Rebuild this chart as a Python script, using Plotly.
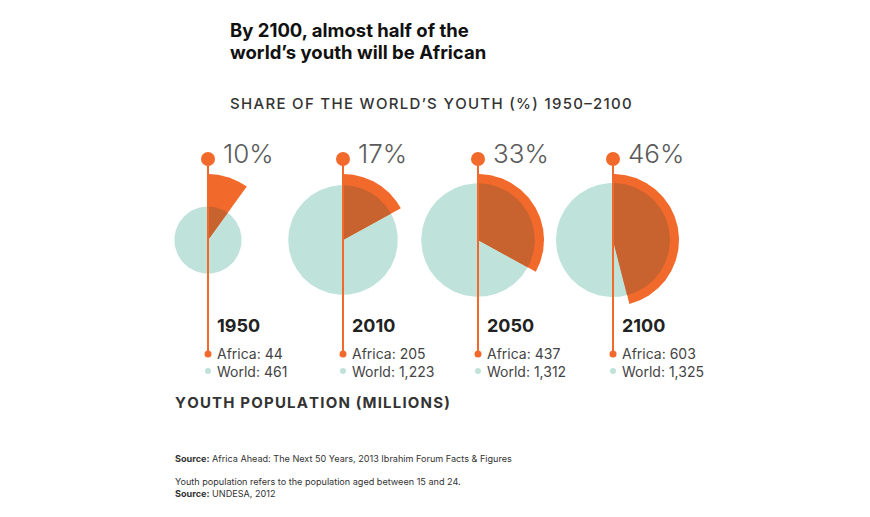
import numpy as np
import plotly.graph_objects as go

years = ["1950", "2010", "2050", "2100"]
share_pct = [10, 17, 33, 46]
africa = [44, 205, 437, 603]
world = [461, 1223, 1312, 1325]

TEAL = "#bfe3db"
ORANGE = "#f26a2b"
DARK = "#c8622f"
W, H = 870, 517
OFF = 8         # page body margin
x0, dx, cy = 208, 135, 240
R_MAX = 57      # circle radius for max world population
R_WEDGE = 66    # radius of the Africa share wedge
FONT = "Inter"
HS = "\u200a"


def spaced(s):
    return HS.join(s)


fig = go.Figure()


def arc(cx, cy, r, a0, a1, n=120):
    t = np.linspace(a0, a1, n)
    return cx + r * np.sin(t), cy - r * np.cos(t)


wmax = max(world)
for i, (yr, s, a, w) in enumerate(zip(years, share_pct, africa, world)):
    cx = x0 + i * dx
    r = R_MAX * np.sqrt(w / wmax)
    xs, ys = arc(cx, cy, r, 0, 2 * np.pi, 200)
    fig.add_trace(go.Scatter(x=xs, y=ys, fill="toself", fillcolor=TEAL, mode="lines",
                             line=dict(width=0), hoverinfo="skip"))
    ang = 2 * np.pi * s / 100
    xs, ys = arc(cx, cy, R_WEDGE, 0, ang)
    fig.add_trace(go.Scatter(x=np.r_[cx, xs, cx], y=np.r_[cy, ys, cy], fill="toself",
                             fillcolor=ORANGE, mode="lines", line=dict(width=0), hoverinfo="skip"))
    xs, ys = arc(cx, cy, r, 0, ang)
    fig.add_trace(go.Scatter(x=np.r_[cx, xs, cx], y=np.r_[cy, ys, cy], fill="toself",
                             fillcolor=DARK, mode="lines", line=dict(width=0), hoverinfo="skip"))
    fig.add_trace(go.Scatter(x=[cx, cx], y=[159, 354], mode="lines",
                             line=dict(color=ORANGE, width=2), hoverinfo="skip"))
    fig.add_trace(go.Scatter(x=[cx], y=[159], mode="markers",
                             marker=dict(color=ORANGE, size=14), hoverinfo="skip"))
    fig.add_trace(go.Scatter(x=[cx], y=[354], mode="markers",
                             marker=dict(color=ORANGE, size=7), hoverinfo="skip"))
    fig.add_trace(go.Scatter(x=[cx], y=[371], mode="markers",
                             marker=dict(color=TEAL, size=6), hoverinfo="skip"))
    fig.add_annotation(x=cx + 13, y=153, text=f"{s}%", showarrow=False, xanchor="left",
                       yanchor="middle", font=dict(family=FONT, size=26, color="#5a5a5a", weight=300))
    fig.add_annotation(x=cx + 7, y=325, text=yr, showarrow=False, xanchor="left",
                       yanchor="middle", font=dict(family=FONT, size=18, color="#222", weight=700))
    fig.add_annotation(x=cx + 7, y=353, text=f"Africa: {a:,}", showarrow=False, xanchor="left",
                       yanchor="middle", font=dict(family=FONT, size=14, color="#444"))
    fig.add_annotation(x=cx + 7, y=371, text=f"World: {w:,}", showarrow=False, xanchor="left",
                       yanchor="middle", font=dict(family=FONT, size=14, color="#444"))

texts = [
    (228, 30, "By 2100, almost half of the", 18.5, "#111", 700),
    (228, 52, "world’s youth will be African", 18.5, "#111", 700),
    (228, 103, spaced("SHARE OF THE WORLD’S YOUTH (%) 1950–2100"), 15, "#333", 500),
    (173, 402, spaced("YOUTH POPULATION (MILLIONS)"), 15, "#333", 700),
    (173, 458, "<b>Source:</b> Africa Ahead: The Next 50 Years, 2013 Ibrahim Forum Facts &amp; Figures", 9.1, "#333", 400),
    (173, 481, "Youth population refers to the population aged between 15 and 24.", 9.1, "#333", 400),
    (173, 493, "<b>Source:</b> UNDESA, 2012", 9.1, "#333", 400),
]
for x, y, t, sz, c, wt in texts:
    fig.add_annotation(x=x, y=y, text=t, showarrow=False, xanchor="left", yanchor="middle",
                       font=dict(family=FONT, size=sz, color=c, weight=wt))

fig.update_layout(width=W, height=H, margin=dict(l=0, r=0, t=0, b=0),
                  paper_bgcolor="white", plot_bgcolor="white", showlegend=False,
                  xaxis=dict(range=[OFF, W + OFF], visible=False, fixedrange=True),
                  yaxis=dict(range=[H + OFF, OFF], visible=False, fixedrange=True))
fig.write_html("out.html")
